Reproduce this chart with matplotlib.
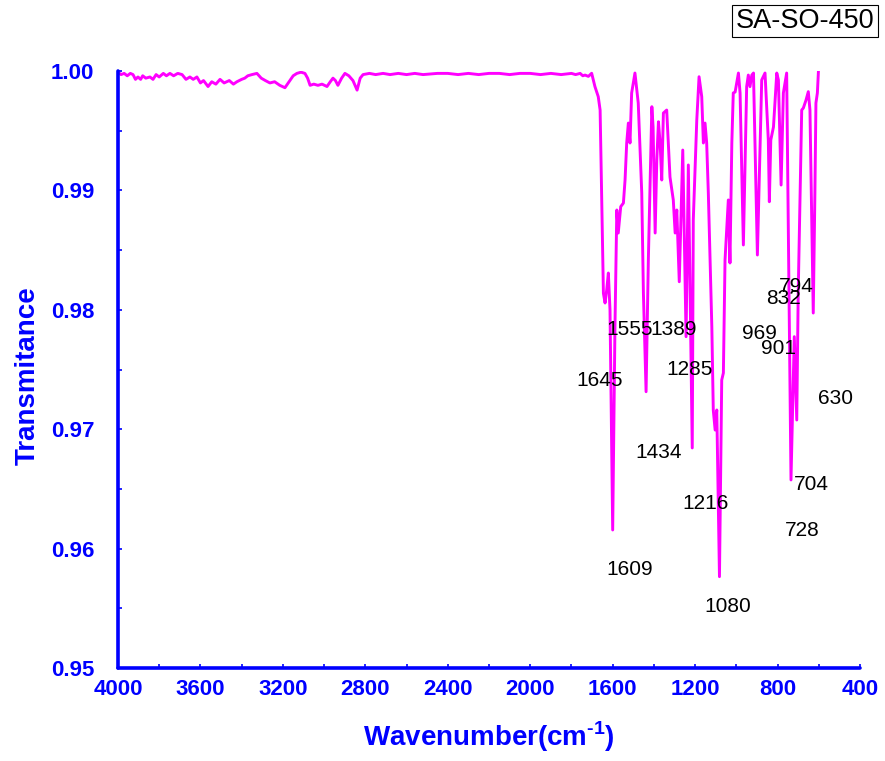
import matplotlib
matplotlib.use("Agg")
import matplotlib.pyplot as plt
from matplotlib.ticker import MultipleLocator

FONT = ["Liberation Sans", "DejaVu Sans"]
plt.rcParams["font.family"] = FONT
plt.rcParams["mathtext.fontset"] = "custom"
plt.rcParams["mathtext.rm"] = "Liberation Sans:bold"
plt.rcParams["mathtext.bf"] = "Liberation Sans:bold"

BLUE = "#0000FF"
MAGENTA = "#FF00FF"

# spectrum (cm-1, transmittance)
wavenumber = [
    4000, 3985, 3970, 3955, 3940, 3927, 3915, 3903, 3890, 3880, 3865, 3845,
    3830, 3815, 3800, 3780, 3765, 3748, 3730, 3710, 3689, 3670, 3651, 3635,
    3617, 3600, 3585, 3563, 3545, 3525, 3505, 3485, 3460, 3440, 3423, 3400,
    3385, 3370, 3350, 3326, 3305, 3285, 3263, 3240, 3215, 3190, 3170, 3150,
    3132, 3112, 3093, 3080, 3068, 3050, 3030, 3010, 2986, 2970, 2957, 2945,
    2933, 2915, 2899, 2880, 2860, 2850, 2840, 2825, 2811, 2780, 2750, 2714,
    2680, 2640, 2600, 2560, 2520, 2450, 2400, 2350, 2300, 2250, 2200, 2150,
    2100, 2050, 2000, 1950, 1900, 1850, 1800, 1780, 1758, 1745,
    1734, 1718, 1702, 1686, 1670, 1661, 1645, 1637, 1629, 1621,
    1613, 1600, 1589, 1580, 1573, 1561, 1548, 1540, 1532, 1524, 1516, 1508,
    1492, 1476, 1459, 1451, 1438, 1427, 1410, 1404, 1394, 1386, 1378, 1370,
    1362, 1354, 1338, 1322, 1306, 1297, 1289, 1277, 1260, 1244, 1233, 1214,
    1209, 1192, 1181, 1168, 1160, 1152, 1144, 1136, 1119, 1112, 1103, 1095,
    1091, 1082, 1071, 1063, 1055, 1039, 1031, 1022, 1015, 1006, 990, 982,
    966, 950, 942, 934, 925, 917, 898, 877, 861, 845, 840, 833,
    820, 804, 796, 783, 772, 756, 735, 719, 707, 700, 683, 675,
    662, 651, 643, 634, 627, 619, 614, 607, 602,
]
transmittance = [
    0.9999, 0.9997, 0.9998, 0.9996, 0.9998, 0.9997, 0.9993, 0.9995, 0.9993,
    0.9996, 0.9994, 0.9995, 0.9993, 0.9997, 0.9995, 0.9998, 0.9996, 0.9998,
    0.9996, 0.9998, 0.9997, 0.9993, 0.9995, 0.9993, 0.9995, 0.9990, 0.9992,
    0.9987, 0.9991, 0.9989, 0.9993, 0.9990, 0.9992, 0.9989, 0.9991, 0.9993,
    0.9994, 0.9996, 0.9997, 0.9998, 0.9994, 0.9992, 0.9990, 0.9991, 0.9988,
    0.9986, 0.9991, 0.9996, 0.9998, 0.9999, 0.9998, 0.9994, 0.9988, 0.9989,
    0.9988, 0.9989, 0.9987, 0.9991, 0.9994, 0.9992, 0.9988, 0.9994, 0.9998,
    0.9996, 0.9992, 0.9988, 0.9984, 0.9994, 0.9997, 0.9998, 0.9997, 0.9998,
    0.9997, 0.9998, 0.9997, 0.9998, 0.9997, 0.9998, 0.9998, 0.9997, 0.9998,
    0.9997, 0.9998, 0.9998, 0.9997, 0.9998, 0.9998, 0.9997, 0.9998, 0.9997,
    0.9998, 0.9997, 0.9998, 0.9996,
    0.99966, 0.99955, 0.99981, 0.99869, 0.99785, 0.99673,
    0.98138, 0.98057, 0.98166, 0.98308, 0.97998, 0.96156, 0.97856, 0.98836,
    0.98643, 0.98864, 0.98894, 0.99087, 0.99397, 0.99564, 0.99397, 0.99816,
    0.99983, 0.99732, 0.98978, 0.98141, 0.97314, 0.98417, 0.99701, 0.99531,
    0.98643, 0.99255, 0.99575, 0.99397, 0.99087, 0.99648, 0.99673, 0.99112,
    0.98920, 0.98643, 0.98836, 0.98235, 0.99338, 0.97775, 0.99213, 0.96843,
    0.98752, 0.99590, 0.99952, 0.99785, 0.99397, 0.99564, 0.99397, 0.98978,
    0.97856, 0.97161, 0.96993, 0.97161, 0.96717, 0.95765, 0.97412, 0.97471,
    0.98417, 0.98920, 0.98392, 0.99397, 0.99816, 0.99824, 0.99983, 0.99816,
    0.98543, 0.99869, 0.99966, 0.99869, 0.99966, 0.99983, 0.98459, 0.99925,
    0.99983, 0.99422, 0.98905, 0.99422, 0.99531, 0.99983, 0.99925, 0.99045,
    0.99816, 0.99983, 0.96575, 0.97775, 0.97077, 0.98141, 0.99673, 0.99690,
    0.99757, 0.99827, 0.99673, 0.98693, 0.97973, 0.98978, 0.99732, 0.99816,
    0.99994,
]

# peak labels: text, x (cm-1), y (transmittance) of the label centre
peak_labels = ["1645", "1555", "1389", "1285", "1434", "1609", "1216", "1080",
               "969", "901", "630", "704", "728", "832", "794"]
label_x = [1661, 1516, 1304, 1227, 1375, 1517, 1148, 1043,
           890, 798, 517, 634, 681, 773, 710]
label_y = [0.97412, 0.97831, 0.97831, 0.97496, 0.96809, 0.95829, 0.96374,
           0.95514, 0.97803, 0.97678, 0.97261, 0.96541, 0.96148, 0.98091,
           0.98199]

x_ticks = [4000, 3600, 3200, 2800, 2400, 2000, 1600, 1200, 800, 400]
y_ticks = [0.95, 0.96, 0.97, 0.98, 0.99, 1.00]


def main():
    fig = plt.figure(figsize=(8.85, 7.61), dpi=100)
    ax = fig.add_axes([0.1333, 0.1222, 0.8385, 0.7845])
    ax.plot(wavenumber, transmittance, color=MAGENTA, lw=2.1,
            solid_joinstyle="round")

    for text, x, y in zip(peak_labels, label_x, label_y):
        ax.text(x, y, text, ha="center", va="center", fontsize=15,
                color="black")

    ax.set_xlim(4000, 400)
    ax.set_ylim(0.95, 1.00)
    ax.set_xticks(x_ticks)
    ax.set_yticks(y_ticks)
    ax.set_yticklabels([f"{v:.2f}" for v in y_ticks])
    ax.xaxis.set_minor_locator(MultipleLocator(200))
    ax.yaxis.set_minor_locator(MultipleLocator(0.005))

    for side in ("top", "right"):
        ax.spines[side].set_visible(False)
    for side in ("left", "bottom"):
        ax.spines[side].set_color(BLUE)
        ax.spines[side].set_linewidth(2.6)
        ax.spines[side].set_capstyle("round")

    ax.tick_params(which="both", direction="in", color=BLUE, width=1.2,
                   length=3, labelcolor=BLUE)
    ax.tick_params(axis="x", pad=8)
    ax.tick_params(axis="y", pad=17)
    for lab in ax.get_xticklabels() + ax.get_yticklabels():
        lab.set_fontsize(16)
        lab.set_fontweight("bold")

    fig.text(0.0316, 0.507, "Transmitance", rotation=90, ha="center",
             va="center", fontsize=20, fontweight="bold", color=BLUE)
    fig.text(0.5525, 0.0315, r"Wavenumber(cm$^{\text{-1}}$)", ha="center",
             va="center", fontsize=20, fontweight="bold", color=BLUE)

    fig.text(0.9096, 0.9724, "SA-SO-450", ha="center", va="center",
             fontsize=19.5, color="black",
             bbox=dict(boxstyle="square,pad=0.12", facecolor="white",
                       edgecolor="black", linewidth=0.8))

    fig.savefig("out.png", dpi=100, facecolor="white")
    plt.close(fig)


if __name__ == "__main__":
    main()
